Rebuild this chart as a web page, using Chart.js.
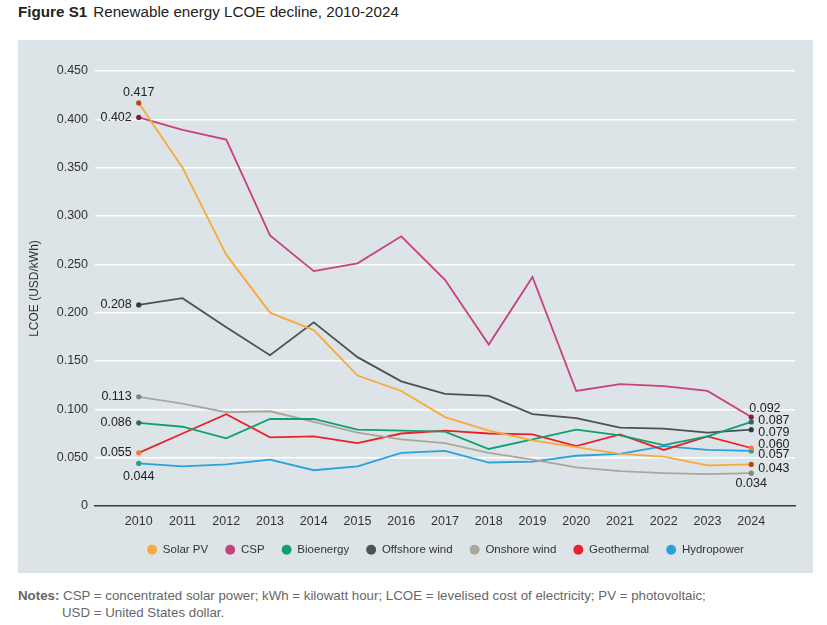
<!DOCTYPE html>
<html>
<head>
<meta charset="utf-8">
<title>Figure S1</title>
<script src="https://cdn.jsdelivr.net/npm/chart.js@4.4.1/dist/chart.umd.min.js"></script>
<style>
  body { margin: 0; background: #fff; font-family: "Liberation Sans", Arial, sans-serif; }
  #page { position: relative; width: 827px; height: 625px; }
  #title { position: absolute; left: 18px; top: 3px; font-size: 15.2px; color: #222; }
  #title b { margin-right: 6px; }
  #panel { position: absolute; left: 18px; top: 40px; width: 795px; height: 533px; background: #dde4e7; }
  #notes { position: absolute; left: 18px; top: 587px; font-size: 13.3px; line-height: 17px; color: #666; }
  #notes .indent { padding-left: 44px; }
</style>
</head>
<body>
<div id="page">
  <div id="title"><b>Figure S1</b>Renewable energy LCOE decline, 2010-2024</div>
  <div id="panel"><canvas id="chart" width="795" height="533"></canvas></div>
  <div id="notes"><b>Notes:</b> CSP = concentrated solar power; kWh = kilowatt hour; LCOE = levelised cost of electricity; PV = photovoltaic;<br><span class="indent">USD = United States dollar.</span></div>
</div>
<script>
'use strict';

// years on the x axis
const years = [2010, 2011, 2012, 2013, 2014, 2015, 2016, 2017, 2018, 2019, 2020, 2021, 2022, 2023, 2024];

// LCOE, USD/kWh
const solarPV      = [0.417, 0.350, 0.260, 0.200, 0.182, 0.135, 0.119, 0.092, 0.078, 0.068, 0.061, 0.054, 0.051, 0.042, 0.043];
const csp          = [0.402, 0.389, 0.379, 0.280, 0.243, 0.251, 0.279, 0.234, 0.167, 0.237, 0.119, 0.126, 0.124, 0.119, 0.092];
const bioenergy    = [0.086, 0.082, 0.070, 0.090, 0.090, 0.079, 0.078, 0.077, 0.059, 0.069, 0.079, 0.073, 0.063, 0.072, 0.087];
const offshoreWind = [0.208, 0.215, 0.185, 0.156, 0.190, 0.154, 0.129, 0.116, 0.114, 0.095, 0.091, 0.081, 0.080, 0.076, 0.079];
const onshoreWind  = [0.113, 0.106, 0.097, 0.098, 0.087, 0.076, 0.069, 0.065, 0.055, 0.048, 0.040, 0.036, 0.034, 0.033, 0.034];
const geothermal   = [0.055, 0.075, 0.095, 0.071, 0.072, 0.065, 0.075, 0.078, 0.075, 0.074, 0.062, 0.074, 0.058, 0.072, 0.060];
const hydropower   = [0.044, 0.041, 0.043, 0.048, 0.037, 0.041, 0.055, 0.057, 0.045, 0.046, 0.052, 0.054, 0.062, 0.058, 0.057];

const seriesNames = ['Solar PV', 'CSP', 'Bioenergy', 'Offshore wind', 'Onshore wind', 'Geothermal', 'Hydropower'];
const seriesValues = [solarPV, csp, bioenergy, offshoreWind, onshoreWind, geothermal, hydropower];

// y axis ticks
const yTicks = [0, 0.05, 0.1, 0.15, 0.2, 0.25, 0.3, 0.35, 0.4, 0.45];

// styling
const lineColors = ['#f9a83b', '#c6427c', '#0f9f74', '#4a5157', '#aba69b', '#ea2228', '#28a2dc'];
const dotColors  = ['#b44b14', '#7a1f50', '#2c6a5c', '#323b41', '#7d887f', '#f27a36', '#17a495'];

// where the end labels go: [first point, last point] as [side, dy]
const labelSpots = [
  [['above', -10], ['right', 4]],
  [['left', 0],    ['aboveLeft', -9]],
  [['left', 0],    ['right', -1]],
  [['left', 0],    ['right', 2.5]],
  [['left', 0],    ['below', 10.5]],
  [['left', 0],    ['right', -3.5]],
  [['below', 13],  ['right', 4]]
];

Chart.defaults.font.family = '"Liberation Sans", Arial, sans-serif';
Chart.defaults.color = '#333';

const endLabels = {
  id: 'endLabels',
  afterDatasetsDraw(chart) {
    const ctx = chart.ctx;
    ctx.save();
    ctx.font = '12.5px "Liberation Sans", Arial, sans-serif';
    ctx.fillStyle = '#222';
    ctx.textBaseline = 'middle';
    chart.data.datasets.forEach((ds, i) => {
      const meta = chart.getDatasetMeta(i);
      const ends = [0, meta.data.length - 1];
      ends.forEach((j, k) => {
        const pt = meta.data[j];
        const [side, dy] = labelSpots[i][k];
        const text = ds.data[j].y.toFixed(3);
        let x = pt.x;
        if (side === 'left') { ctx.textAlign = 'right'; x -= 7; }
        else if (side === 'right') { ctx.textAlign = 'left'; x += 7; }
        else if (side === 'aboveLeft') { ctx.textAlign = 'left'; x -= 2; }
        else { ctx.textAlign = 'center'; }
        ctx.fillText(text, x, pt.y + dy);
      });
    });
    ctx.restore();
  }
};

// nudge the legend so it sits where the original has it
const legendShift = {
  id: 'legendShift',
  afterLayout(chart) {
    chart.legend.left += 39;
    chart.legend.right += 39;
  }
};

const datasets = seriesNames.map((name, i) => ({
  label: name,
  data: years.map((yr, j) => ({ x: yr, y: seriesValues[i][j] })),
  borderColor: lineColors[i],
  backgroundColor: lineColors[i],
  borderWidth: 1.8,
  pointRadius: years.map((yr, j) => (j === 0 || j === years.length - 1) ? 2.6 : 0),
  pointBackgroundColor: dotColors[i],
  pointBorderWidth: 0,
  tension: 0
}));

new Chart(document.getElementById('chart'), {
  type: 'line',
  data: { datasets },
  plugins: [endLabels, legendShift],
  options: {
    responsive: false,
    animation: false,
    layout: { padding: { top: 31, right: 18, left: 0, bottom: 7.5 } },
    plugins: {
      tooltip: { enabled: false },
      legend: {
        position: 'bottom',
        labels: {
          usePointStyle: true,
          pointStyle: 'circle',
          boxWidth: 10,
          boxHeight: 7,
          padding: 17,
          color: '#333',
          font: { size: 11.5 },
          generateLabels(chart) {
            const items = Chart.defaults.plugins.legend.labels.generateLabels(chart);
            items.forEach((it, i) => {
              it.fillStyle = lineColors[i];
              it.strokeStyle = lineColors[i];
              it.lineWidth = 0;
            });
            return items;
          }
        }
      }
    },
    scales: {
      x: {
        type: 'linear',
        min: 2009,
        max: 2025,
        grid: { display: false, drawTicks: false },
        border: { display: true, color: '#3a3a3a', width: 1.5 },
        afterFit(scale) { scale.height = 21; },
        ticks: {
          stepSize: 1,
          autoSkip: false,
          maxRotation: 0,
          padding: 8,
          color: '#333',
          font: { size: 12.5 },
          callback: (v) => years.includes(v) ? String(v) : ''
        }
      },
      y: {
        min: yTicks[0],
        max: yTicks[yTicks.length - 1],
        afterFit(scale) { scale.width = 77; },
        afterBuildTicks(scale) { scale.ticks = yTicks.map(v => ({ value: v })); },
        grid: {
          drawTicks: false,
          lineWidth: 1.5,
          color: (c) => c.tick && c.tick.value === 0 ? 'rgba(0,0,0,0)' : '#ffffff'
        },
        border: { display: false },
        title: {
          display: true,
          text: 'LCOE (USD/kWh)',
          color: '#333',
          font: { size: 12 },
          padding: { top: 9.5, bottom: 0 }
        },
        ticks: {
          padding: 7,
          color: '#333',
          font: { size: 12.5 },
          callback: (v) => v === 0 ? '0' : v.toFixed(3)
        }
      }
    }
  }
});
</script>
</body>
</html>
